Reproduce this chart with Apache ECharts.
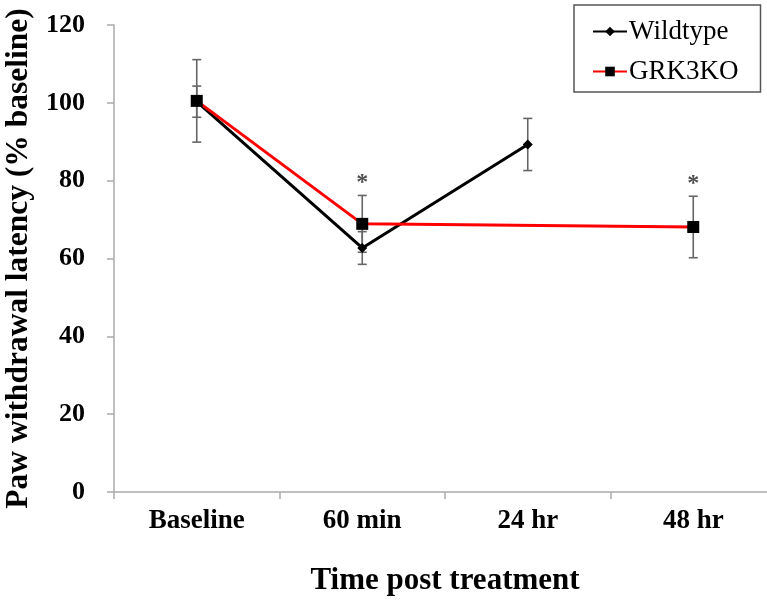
<!DOCTYPE html>
<html>
<head>
<meta charset="utf-8">
<script src="https://cdn.jsdelivr.net/npm/echarts@6/dist/echarts.min.js"></script>
<style>html,body{margin:0;padding:0;background:#fff;}#c{width:767px;height:603px;}</style>
</head>
<body>
<div id="c"></div>
<script>
var categories = ['Baseline', '60 min', '24 hr', '48 hr'];
var wildtype = [100.3, 62.7, 89.3, null];
var wildtypeErr = [4.0, 4.2, 6.7, null];
var grk3ko = [100.5, 68.9, null, 68.1];
var grk3koErr = [10.6, 7.3, null, 7.9];
var sigMarks = [[1, 76.2], [3, 75.9]];
var yTicks = {min: 0, max: 120, interval: 20};

var FONT = '"Liberation Serif", "Times New Roman", serif';

function errData(vals, errs) {
  var out = [];
  for (var i = 0; i < vals.length; i++) {
    if (vals[i] != null && errs[i] != null) out.push([i, vals[i] - errs[i], vals[i] + errs[i]]);
  }
  return out;
}

function renderErr(params, api) {
  var x = api.value(0);
  var lo = api.coord([x, api.value(1)]);
  var hi = api.coord([x, api.value(2)]);
  var w = 4.5;
  var st = {stroke: '#666', lineWidth: 1.6};
  return {type: 'group', children: [
    {type: 'line', shape: {x1: lo[0], y1: lo[1], x2: hi[0], y2: hi[1]}, style: st},
    {type: 'line', shape: {x1: lo[0] - w, y1: lo[1], x2: lo[0] + w, y2: lo[1]}, style: st},
    {type: 'line', shape: {x1: hi[0] - w, y1: hi[1], x2: hi[0] + w, y2: hi[1]}, style: st}
  ]};
}

var chart = echarts.init(document.getElementById('c'), null, {renderer: 'canvas'});
chart.setOption({
  animation: false,
  backgroundColor: '#fff',
  grid: {left: 114, width: 662, top: 25, height: 467, containLabel: false, outerBoundsMode: 'none'},
  legend: {
    orient: 'vertical',
    left: 574, top: 5,
    padding: [13, 22, 7, 18],
    itemGap: 13,
    itemWidth: 34, itemHeight: 12,
    borderColor: '#555', borderWidth: 1.5,
    backgroundColor: '#fff',
    textStyle: {fontFamily: FONT, fontSize: 27, color: '#000', padding: [0, 0, 0, -3]},
    data: ['Wildtype', 'GRK3KO']
  },
  xAxis: {
    type: 'category',
    data: categories,
    boundaryGap: true,
    axisLine: {lineStyle: {color: '#aaa', width: 1.5}},
    axisTick: {show: true, length: 7, alignWithLabel: false, lineStyle: {color: '#aaa', width: 1.5}},
    axisLabel: {fontFamily: FONT, fontSize: 27, fontWeight: 'bold', color: '#000', margin: 16},
    name: 'Time post treatment',
    nameLocation: 'middle',
    nameGap: 73,
    nameTextStyle: {fontFamily: FONT, fontSize: 31, fontWeight: 'bold', color: '#000'}
  },
  yAxis: {
    type: 'value',
    min: yTicks.min, max: yTicks.max, interval: yTicks.interval,
    splitLine: {show: false},
    axisLine: {show: true, lineStyle: {color: '#aaa', width: 1.5}},
    axisTick: {show: true, length: 7, lineStyle: {color: '#aaa', width: 1.5}},
    axisLabel: {fontFamily: FONT, fontSize: 26, fontWeight: 'bold', color: '#000', margin: 29},
    name: 'Paw withdrawal latency (% baseline)',
    nameLocation: 'middle',
    nameGap: 69,
    nameTextStyle: {fontFamily: FONT, fontSize: 31.5, fontWeight: 'bold', color: '#000'}
  },
  series: [
    {
      type: 'custom', name: 'errW', renderItem: renderErr,
      data: errData(wildtype, wildtypeErr), z: 1, silent: true
    },
    {
      type: 'custom', name: 'errG', renderItem: renderErr,
      data: errData(grk3ko, grk3koErr), z: 1, silent: true
    },
    {
      type: 'line', name: 'Wildtype', data: wildtype,
      symbol: 'diamond', symbolSize: 10, showAllSymbol: true,
      lineStyle: {color: '#000', width: 3},
      itemStyle: {color: '#000'},
      z: 3
    },
    {
      type: 'line', name: 'GRK3KO', data: grk3ko, connectNulls: true,
      symbol: 'rect', symbolSize: 12,
      lineStyle: {color: '#ff0000', width: 3},
      itemStyle: {color: '#000'},
      z: 4
    },
    {
      type: 'scatter', name: 'sig', data: sigMarks,
      symbolSize: 1, itemStyle: {color: 'rgba(0,0,0,0)'},
      label: {show: true, position: 'top', distance: 0, formatter: '*', fontFamily: FONT, fontSize: 24, fontWeight: 'bold', color: '#222'},
      silent: true, z: 5
    }
  ]
});
</script>
</body>
</html>
